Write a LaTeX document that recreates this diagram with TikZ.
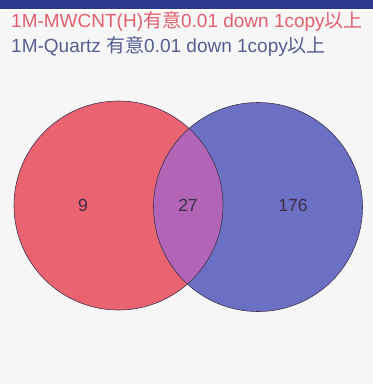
\documentclass[tikz,border=0pt]{standalone}
\usepackage{fontspec}
\setmainfont{Liberation Sans}
\newfontfamily\cjk{Noto Sans CJK JP}
\usetikzlibrary{positioning}
\definecolor{bgfill}{RGB}{246,246,246}
\definecolor{bandfill}{RGB}{44,56,140}
\definecolor{redfill}{RGB}{233,100,112}
\definecolor{bluefill}{RGB}{108,112,196}
\definecolor{mixfill}{RGB}{178,100,182}
\definecolor{rimline}{RGB}{64,52,80}
\definecolor{redtext}{RGB}{226,96,110}
\definecolor{bluetext}{RGB}{88,94,146}
\definecolor{numtext}{RGB}{60,44,70}

\begin{document}
\begin{tikzpicture}[
  x=1pt, y=-1pt,
  title/.style={anchor=west, inner sep=0pt, font=\fontsize{19}{22}\selectfont},
  setc/.style={circle, inner sep=0pt, minimum size=209pt},
  rim/.style={draw=rimline, line width=0.6pt},
  count/.style={font=\fontsize{17.5}{20}\selectfont, text=numtext},
]
\fill[bgfill] (0,0) rectangle (373,384);
\fill[bandfill] (0,0) rectangle (373,9);
\fill[white] (0,9) rectangle (373,11);
\useasboundingbox (0,0) rectangle (373,384);

\node[title, text=redtext] (h1) at (11,21.5) {1M-MWCNT(H){\cjk 有意}0.01 down 1copy{\cjk 以上}};
\node[title, text=bluetext] (h2) at (11,46) {1M-Quartz {\cjk 有意}0.01 down 1copy{\cjk 以上}};

% the two sets
\node[setc, fill=redfill] (mwcnt) at (118.5,205.5) {};
\node[setc, fill=bluefill] (quartz) at (258,207) {};
\begin{scope}
  \clip (118.5,205.5) circle (104.5pt);
  \fill[mixfill] (258,207) circle (104.5pt);
\end{scope}
\node[setc, rim] at (mwcnt.center) {};
\node[setc, rim] at (quartz.center) {};

\node[count] (only1) at (83,205) {9};
\node[count] (both) at (188,205) {27};
\node[count] (only2) at (293,205) {176};
\end{tikzpicture}
\end{document}
